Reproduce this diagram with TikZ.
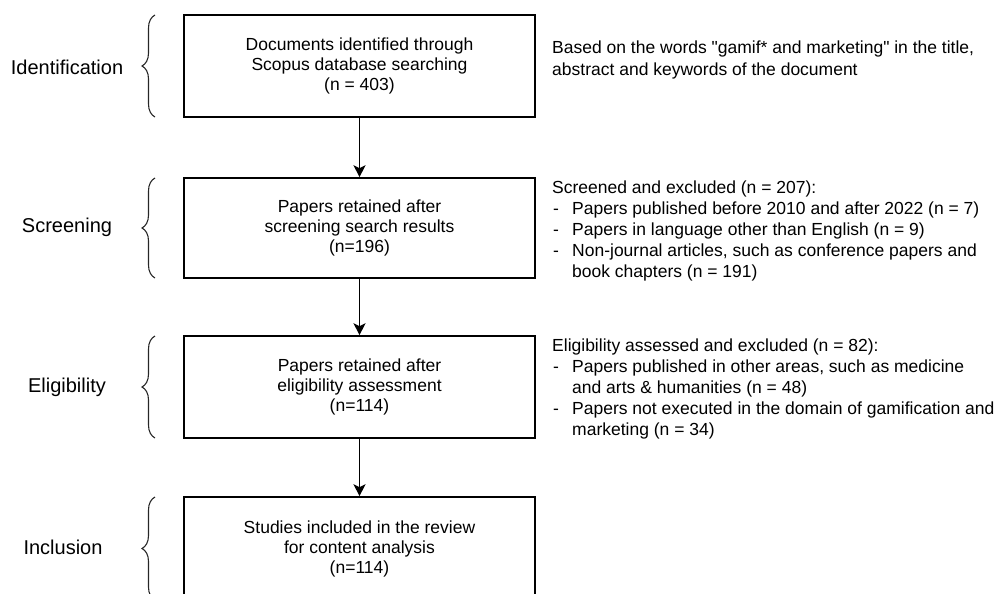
\documentclass[tikz,border=0pt]{standalone}
\usepackage{fontspec}
\setmainfont{Liberation Sans}
\usetikzlibrary{decorations.pathreplacing,arrows.meta}
\tikzset{
  stagebox/.style={draw, line width=1.6pt, minimum width=351pt, inner sep=0pt,
    align=center, font=\fontsize{17.5}{20}\selectfont},
  stagelabel/.style={font=\fontsize{20}{24}\selectfont, inner sep=0pt},
  sidenote/.style={anchor=base west, inner sep=0pt, font=\fontsize{17.5}{21}\selectfont},
  flowarrow/.style={line width=1.6pt, -{Stealth[length=12pt,width=12pt,inset=3pt]}},
  bracemark/.style={decorate, decoration={brace, amplitude=13pt}, line width=1.1pt, black!85},
}
\newcommand{\dashitem}{\makebox[20pt][l]{\hspace{1pt}-}}
\newcommand{\contitem}{\hspace*{20pt}}
\newcommand{\straightquote}{\XeTeXglyph\XeTeXglyphindex "quotedbl" \relax}
\begin{document}
\begin{tikzpicture}[x=1pt,y=-1pt]
\useasboundingbox (0,0) rectangle (999,594);
\begin{scope}
\clip (0,0) rectangle (999,594);
% boxes
\node[stagebox, minimum height=102pt] (b1) at (359.5,66) {Documents identified through\\Scopus database searching\\(n = 403)};
\node[stagebox, minimum height=100pt] (b2) at (359.5,228) {Papers retained after\\screening search results\\(n=196)};
\node[stagebox, minimum height=102pt] (b3) at (359.5,387) {Papers retained after\\eligibility assessment\\(n=114)};
\node[stagebox, minimum height=104pt] (b4) at (359.5,549) {Studies included in the review\\for content analysis\\(n=114)};
% arrows
\draw[flowarrow] (b1.south) -- (b2.north);
\draw[flowarrow] (b2.south) -- (b3.north);
\draw[flowarrow] (b3.south) -- (b4.north);
% stage labels
\node[stagelabel] (l1) at (67,67) {Identification};
\node[stagelabel] (l2) at (67,227) {Screening};
\node[stagelabel] (l3) at (67,387) {Eligibility};
\node[stagelabel] (l4) at (63,547) {Inclusion};
% braces
\coordinate (br1a) at (155,117); \coordinate (br1b) at (155,15);
\coordinate (br2a) at (155,278); \coordinate (br2b) at (155,178);
\coordinate (br3a) at (155,438); \coordinate (br3b) at (155,336);
\coordinate (br4a) at (155,600); \coordinate (br4b) at (155,497);
\draw[bracemark] (br1a) -- (br1b);
\draw[bracemark] (br2a) -- (br2b);
\draw[bracemark] (br3a) -- (br3b);
\draw[bracemark] (br4a) -- (br4b);
% side notes
\node[sidenote] (n1) at (552,54) {\begin{tabular}[t]{@{}l@{}}Based on the words \straightquote gamif* and marketing\straightquote{} in the title,\\abstract and keywords of the document\end{tabular}};
\node[sidenote] (n2) at (552,193) {\begin{tabular}[t]{@{}l@{}}Screened and excluded (n = 207):\\
\dashitem Papers published before 2010 and after 2022 (n = 7)\\
\dashitem Papers in language other than English (n = 9)\\
\dashitem Non-journal articles, such as conference papers and\\
\contitem book chapters (n = 191)\end{tabular}};
\node[sidenote] (n3) at (552,351) {\begin{tabular}[t]{@{}l@{}}Eligibility assessed and excluded (n = 82):\\
\dashitem Papers published in other areas, such as medicine\\
\contitem and arts \& humanities (n = 48)\\
\dashitem Papers not executed in the domain of gamification and\\
\contitem marketing (n = 34)\end{tabular}};
\end{scope}
\end{tikzpicture}
\end{document}
